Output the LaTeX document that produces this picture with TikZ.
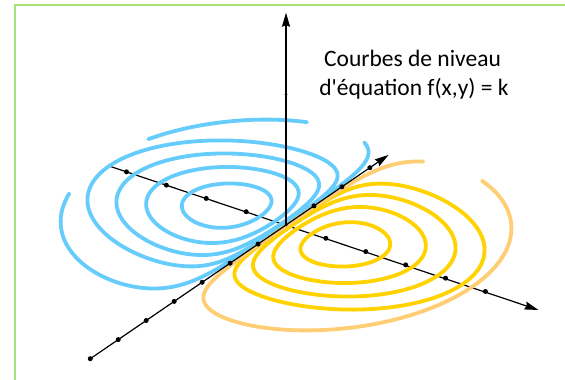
\documentclass[tikz,border=0pt]{standalone}
\usepackage{fontspec}
\setmainfont{Carlito}[Ligatures=TeXOff]
\usetikzlibrary{arrows.meta}
\definecolor{frameg}{RGB}{166,226,116}
\definecolor{cblue}{RGB}{102,204,252}
\definecolor{cyel}{RGB}{255,210,0}
\definecolor{corange}{RGB}{255,205,115}
% one part of a level curve of f(a,b)=a exp(-a^2-b^2) drawn in the ground plane
% #1 side (+1 yellow, -1 blue), #2 half (+1 / -1), #3 b-scale, #4 x1, #5 ln(x2/x1), #6 #7 domain
\newcommand\levelpart[7]{plot[domain=#6:#7] ({286+(#1)*(80.64*cx(\x,#4,#5)+(#3)*(#2)*0.8257*cy(\x,#4,#5))},{225+(#1)*(26.87*cx(\x,#4,#5)-(#3)*(#2)*0.5641*cy(\x,#4,#5))})}
\newcommand\levelnext[7]{-- plot[domain=#6:#7] ({286+(#1)*(80.64*cx(\x,#4,#5)+(#3)*(#2)*0.8257*cy(\x,#4,#5))},{225+(#1)*(26.87*cx(\x,#4,#5)-(#3)*(#2)*0.5641*cy(\x,#4,#5))})}
\newcommand\levelcurve[4]{\levelpart{#1}{1}{#2}{#3}{#4}{0}{180} \levelnext{#1}{-1}{#2}{#3}{#4}{180}{360} -- cycle}
\begin{document}
\begin{tikzpicture}[x=1pt,y=-1pt,
  declare function={cs(\t)=(1-cos(\t))/2; cx(\t,\p,\q)=\p*exp(cs(\t)*\q); cy(\t,\p,\q)=sqrt(max(0,cs(\t)*\q-cx(\t,\p,\q)^2+\p^2));},
  samples=121,
  contour/.style={line width=3.8pt, line cap=round, line join=round},
  axisline/.style={line width=1.2pt, draw=black},
  arrowtip/.style={-{Stealth[length=14pt,width=8pt,inset=1.5pt]}},
  tickdot/.style={circle, fill=black, inner sep=0pt, minimum size=5pt},
  label/.style={anchor=base, font=\fontsize{23.5}{28}\selectfont, inner sep=0pt}]
\useasboundingbox (0,0) rectangle (565,380);
\fill[white] (0,0) rectangle (565,380);
\draw[frameg, line width=1.8pt] (15,381) -- (15,5.3) -- (566,5.3);

\coordinate (O) at (286,225);
\coordinate (X1s) at (108.1,165.7);
\coordinate (X1e) at (538.5,310);
\coordinate (X2s) at (90.3,358.7);
\coordinate (X2e) at (388.6,154.9);
\coordinate (Zt) at (286,12.7);

% first ground axis, below the curves
\draw[axisline, arrowtip] (X1s) -- (X1e);

% blue level curves
\draw[contour, cblue] \levelcurve{-1}{53}{0.321}{1.3086};
\draw[contour, cblue] \levelcurve{-1}{53}{0.1378}{2.4298};
\draw[contour, cblue] \levelcurve{-1}{53}{0.05466}{3.5389};
\draw[contour, cblue] \levelcurve{-1}{53}{0.01783}{4.8126};
\draw[contour, cblue] \levelpart{-1}{-1}{71}{0.011311}{5.3176}{191}{224.4};
\draw[contour, cblue] \levelpart{-1}{-1}{71}{0.011311}{5.3176}{252.7}{360} \levelnext{-1}{1}{71}{0.011311}{5.3176}{0}{168.8};

% yellow level curves
\draw[contour, cyel] \levelcurve{1}{53}{0.321}{1.3086};
\draw[contour, cyel] \levelcurve{1}{53}{0.1378}{2.4298};
\draw[contour, cyel] \levelcurve{1}{53}{0.05466}{3.5389};
\draw[contour, cyel] \levelcurve{1}{53}{0.01783}{4.8126};
\draw[contour, corange] \levelpart{1}{1}{71}{0.011311}{5.3176}{136}{180} \levelnext{1}{-1}{71}{0.011311}{5.3176}{180}{360} \levelnext{1}{1}{71}{0.011311}{5.3176}{0}{108.3};

% other axes on top
\draw[axisline, arrowtip] (X2s) -- (X2e);
\draw[axisline, arrowtip] (O) -- (Zt);

% graduations
\foreach \k [count=\i] in {-4,-3,-2,-1,1,2,3,4,5}
  \node[tickdot] (ta\i) at ({286+\k*39.88},{225+\k*13.29}) {};
\foreach \k [count=\i] in {-7,-6,-5,-4,-3,-2,-1,1,2,3}
  \node[tickdot] (tb\i) at ({286+\k*27.96},{225-\k*19.1}) {};
\node[tickdot, minimum size=3pt] (tz) at (286,94.3) {};
\node[tickdot, minimum size=3pt] (to) at (O) {};

% title
\node[label] (t1) at (412.5,66.7) {Courbes de niveau};
\node[label] (t2) at (414,95) {d'équation f(x,y) = k};
\end{tikzpicture}
\end{document}
